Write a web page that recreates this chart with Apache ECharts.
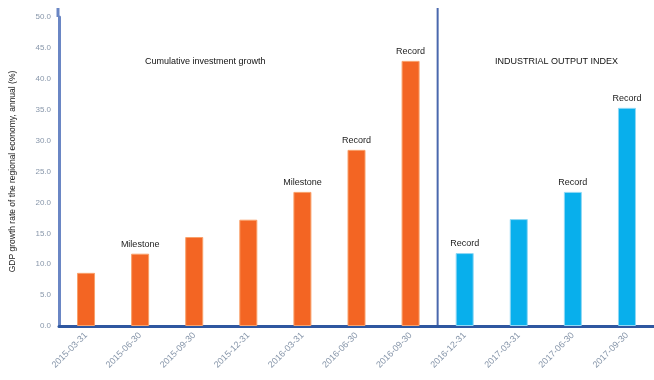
<!DOCTYPE html>
<html>
<head>
<meta charset="utf-8">
<script src="https://cdn.jsdelivr.net/npm/echarts@6/dist/echarts.min.js"></script>
<style>
  html, body { margin: 0; padding: 0; background: #fff; }
  #main { width: 654px; height: 380px; }
</style>
</head>
<body>
<div id="main"></div>
<script>
// categories (dates on the x axis)
var categories = ['2015-03-31', '2015-06-30', '2015-09-30', '2015-12-31', '2016-03-31',
  '2016-06-30', '2016-09-30', '2016-12-31', '2017-03-31', '2017-06-30', '2017-09-30'];
// left group (orange) and right group (blue)
var leftValues = [8.6, 11.7, 14.4, 17.2, 21.7, 28.5, 42.9];
var rightValues = [11.8, 17.3, 21.7, 35.3];
// labels above some bars ('' = no label)
var leftLabels = ['', 'Milestone', '', '', 'Milestone', 'Record', 'Record'];
var rightLabels = ['Record', '', 'Record', 'Record'];
var yTicks = { min: 0, max: 50, interval: 5 };

var chartDom = document.getElementById('main');
var myChart = echarts.init(chartDom);

var leftData = [], rightData = [];
for (var i = 0; i < categories.length; i++) {
  if (i < leftValues.length) {
    leftData.push({ value: leftValues[i], label: { show: leftLabels[i] !== '', formatter: leftLabels[i] } });
    rightData.push('-');
  } else {
    var j = i - leftValues.length;
    leftData.push('-');
    rightData.push({ value: rightValues[j], label: { show: rightLabels[j] !== '', formatter: rightLabels[j] } });
  }
}

var labelStyle = { position: 'top', distance: 5, fontSize: 9, color: '#222', fontFamily: 'Liberation Sans' };

var option = {
  animation: false,
  textStyle: { fontFamily: 'Liberation Sans' },
  title: [
    { text: 'Cumulative investment growth', left: 140, top: 52,
      textStyle: { fontSize: 9, fontWeight: 'normal', color: '#111' } },
    { text: 'INDUSTRIAL OUTPUT INDEX', left: 490, top: 52,
      textStyle: { fontSize: 9, fontWeight: 'normal', color: '#111' } }
  ],
  grid: { left: 57, right: -3, top: 17, bottom: 54 },
  xAxis: {
    type: 'category',
    data: categories,
    axisLine: { lineStyle: { color: '#2f57a0', width: 3 } },
    axisTick: { show: false },
    axisLabel: { rotate: 45, fontSize: 9, color: '#8796aa', margin: 8 }
  },
  yAxis: {
    type: 'value',
    min: yTicks.min, max: yTicks.max, interval: yTicks.interval,
    name: 'GDP growth rate of the regional economy, annual (%)',
    nameLocation: 'middle', nameGap: 42, nameRotate: 90,
    nameTextStyle: { fontSize: 8.5, color: '#222' },
    axisLine: { show: true, lineStyle: { color: '#6a86c4', width: 3 } },
    axisTick: { show: false },
    splitLine: { show: false },
    axisLabel: { fontSize: 8, color: '#8796aa', margin: 8,
      formatter: function (v) { return v.toFixed(1); } }
  },
  series: [
    { name: 'left', type: 'bar', stack: 'all', barWidth: 18, data: leftData,
      itemStyle: { color: '#f36523', borderColor: '#f9a06a', borderWidth: 1 },
      label: labelStyle },
    { name: 'right', type: 'bar', stack: 'all', barWidth: 18, data: rightData,
      itemStyle: { color: '#08afec', borderColor: '#8fd8f5', borderWidth: 1 },
      label: labelStyle }
  ]
};
myChart.setOption(option);

// divider between the two groups, placed from the axis scale
var xa = myChart.convertToPixel({ xAxisIndex: 0 }, categories[leftValues.length - 1]);
var xb = myChart.convertToPixel({ xAxisIndex: 0 }, categories[leftValues.length]);
var yTop = myChart.convertToPixel({ yAxisIndex: 0 }, yTicks.max);
var yBot = myChart.convertToPixel({ yAxisIndex: 0 }, yTicks.min);
var xd = (xa + xb) / 2;
myChart.setOption({
  graphic: [
    { type: 'line', shape: { x1: xd, y1: yTop - 9, x2: xd, y2: yBot },
      style: { stroke: '#4a68ad', lineWidth: 2 } },
    { type: 'line', shape: { x1: 58, y1: yTop - 9, x2: 58, y2: yTop },
      style: { stroke: '#6a86c4', lineWidth: 3 } }
  ]
});
</script>
</body>
</html>
